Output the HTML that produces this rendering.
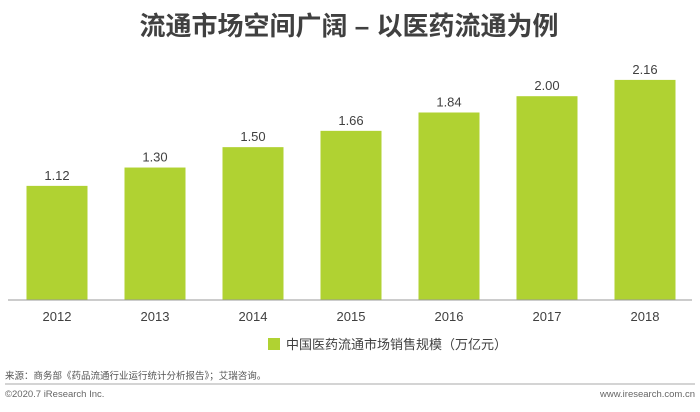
<!DOCTYPE html>
<html><head><meta charset="utf-8"><style>
body{margin:0;background:#fff;}
svg text{font-family:"Liberation Sans","Noto Sans CJK SC",sans-serif;}
</style></head><body>
<svg id="chart" width="700" height="407" xmlns="http://www.w3.org/2000/svg">
<text x="349" y="35" text-anchor="middle" font-size="26" font-weight="bold" fill="#404040">流通市场空间广阔 – 以医药流通为例</text>
<g id="bars"></g>
<line x1="8" y1="300" x2="692" y2="300" stroke="#999" stroke-width="1"/>
<rect x="268" y="338" width="12" height="12" fill="#B0D232"/>
<text x="286" y="349" font-size="13" fill="#404040">中国医药流通市场销售规模（万亿元）</text>
<text x="5" y="379" font-size="9.5" fill="#555">来源：商务部《药品流通行业运行统计分析报告》；艾瑞咨询。</text>
<line x1="5" y1="384" x2="695" y2="384" stroke="#aaa" stroke-width="1"/>
<text x="5" y="397" font-size="9.5" fill="#666">©2020.7 iResearch Inc.</text>
<text x="695" y="397" text-anchor="end" font-size="9.5" fill="#666">www.iresearch.com.cn</text>
</svg>
<script>
const categories=["2012","2013","2014","2015","2016","2017","2018"];
const values=[1.12,1.30,1.50,1.66,1.84,2.00,2.16];
const valueLabels=["1.12","1.30","1.50","1.66","1.84","2.00","2.16"];
const NS="http://www.w3.org/2000/svg";
const g=document.getElementById('bars');
const x0=57,step=98,bw=61,baseY=300,pxPerUnit=101.9;
function xScale(i){return x0+i*step;}
function yScale(v){return baseY-v*pxPerUnit;}
categories.forEach((c,i)=>{
  const cx=xScale(i),y=yScale(values[i]);
  const r=document.createElementNS(NS,'rect');
  r.setAttribute('x',cx-bw/2);r.setAttribute('y',y);r.setAttribute('width',bw);r.setAttribute('height',baseY-y);r.setAttribute('fill','#B0D232');
  
  
  g.appendChild(r);
  const t=document.createElementNS(NS,'text');
  t.setAttribute('x',cx);t.setAttribute('y',y-6);t.setAttribute('text-anchor','middle');t.setAttribute('font-size','13');t.setAttribute('fill','#404040');
  t.textContent=valueLabels[i];
  
  
  g.appendChild(t);
  const l=document.createElementNS(NS,'text');
  l.setAttribute('x',cx);l.setAttribute('y',321);l.setAttribute('text-anchor','middle');l.setAttribute('font-size','13');l.setAttribute('fill','#404040');
  l.textContent=c;
  
  
  g.appendChild(l);
});
</script>
</body></html>
